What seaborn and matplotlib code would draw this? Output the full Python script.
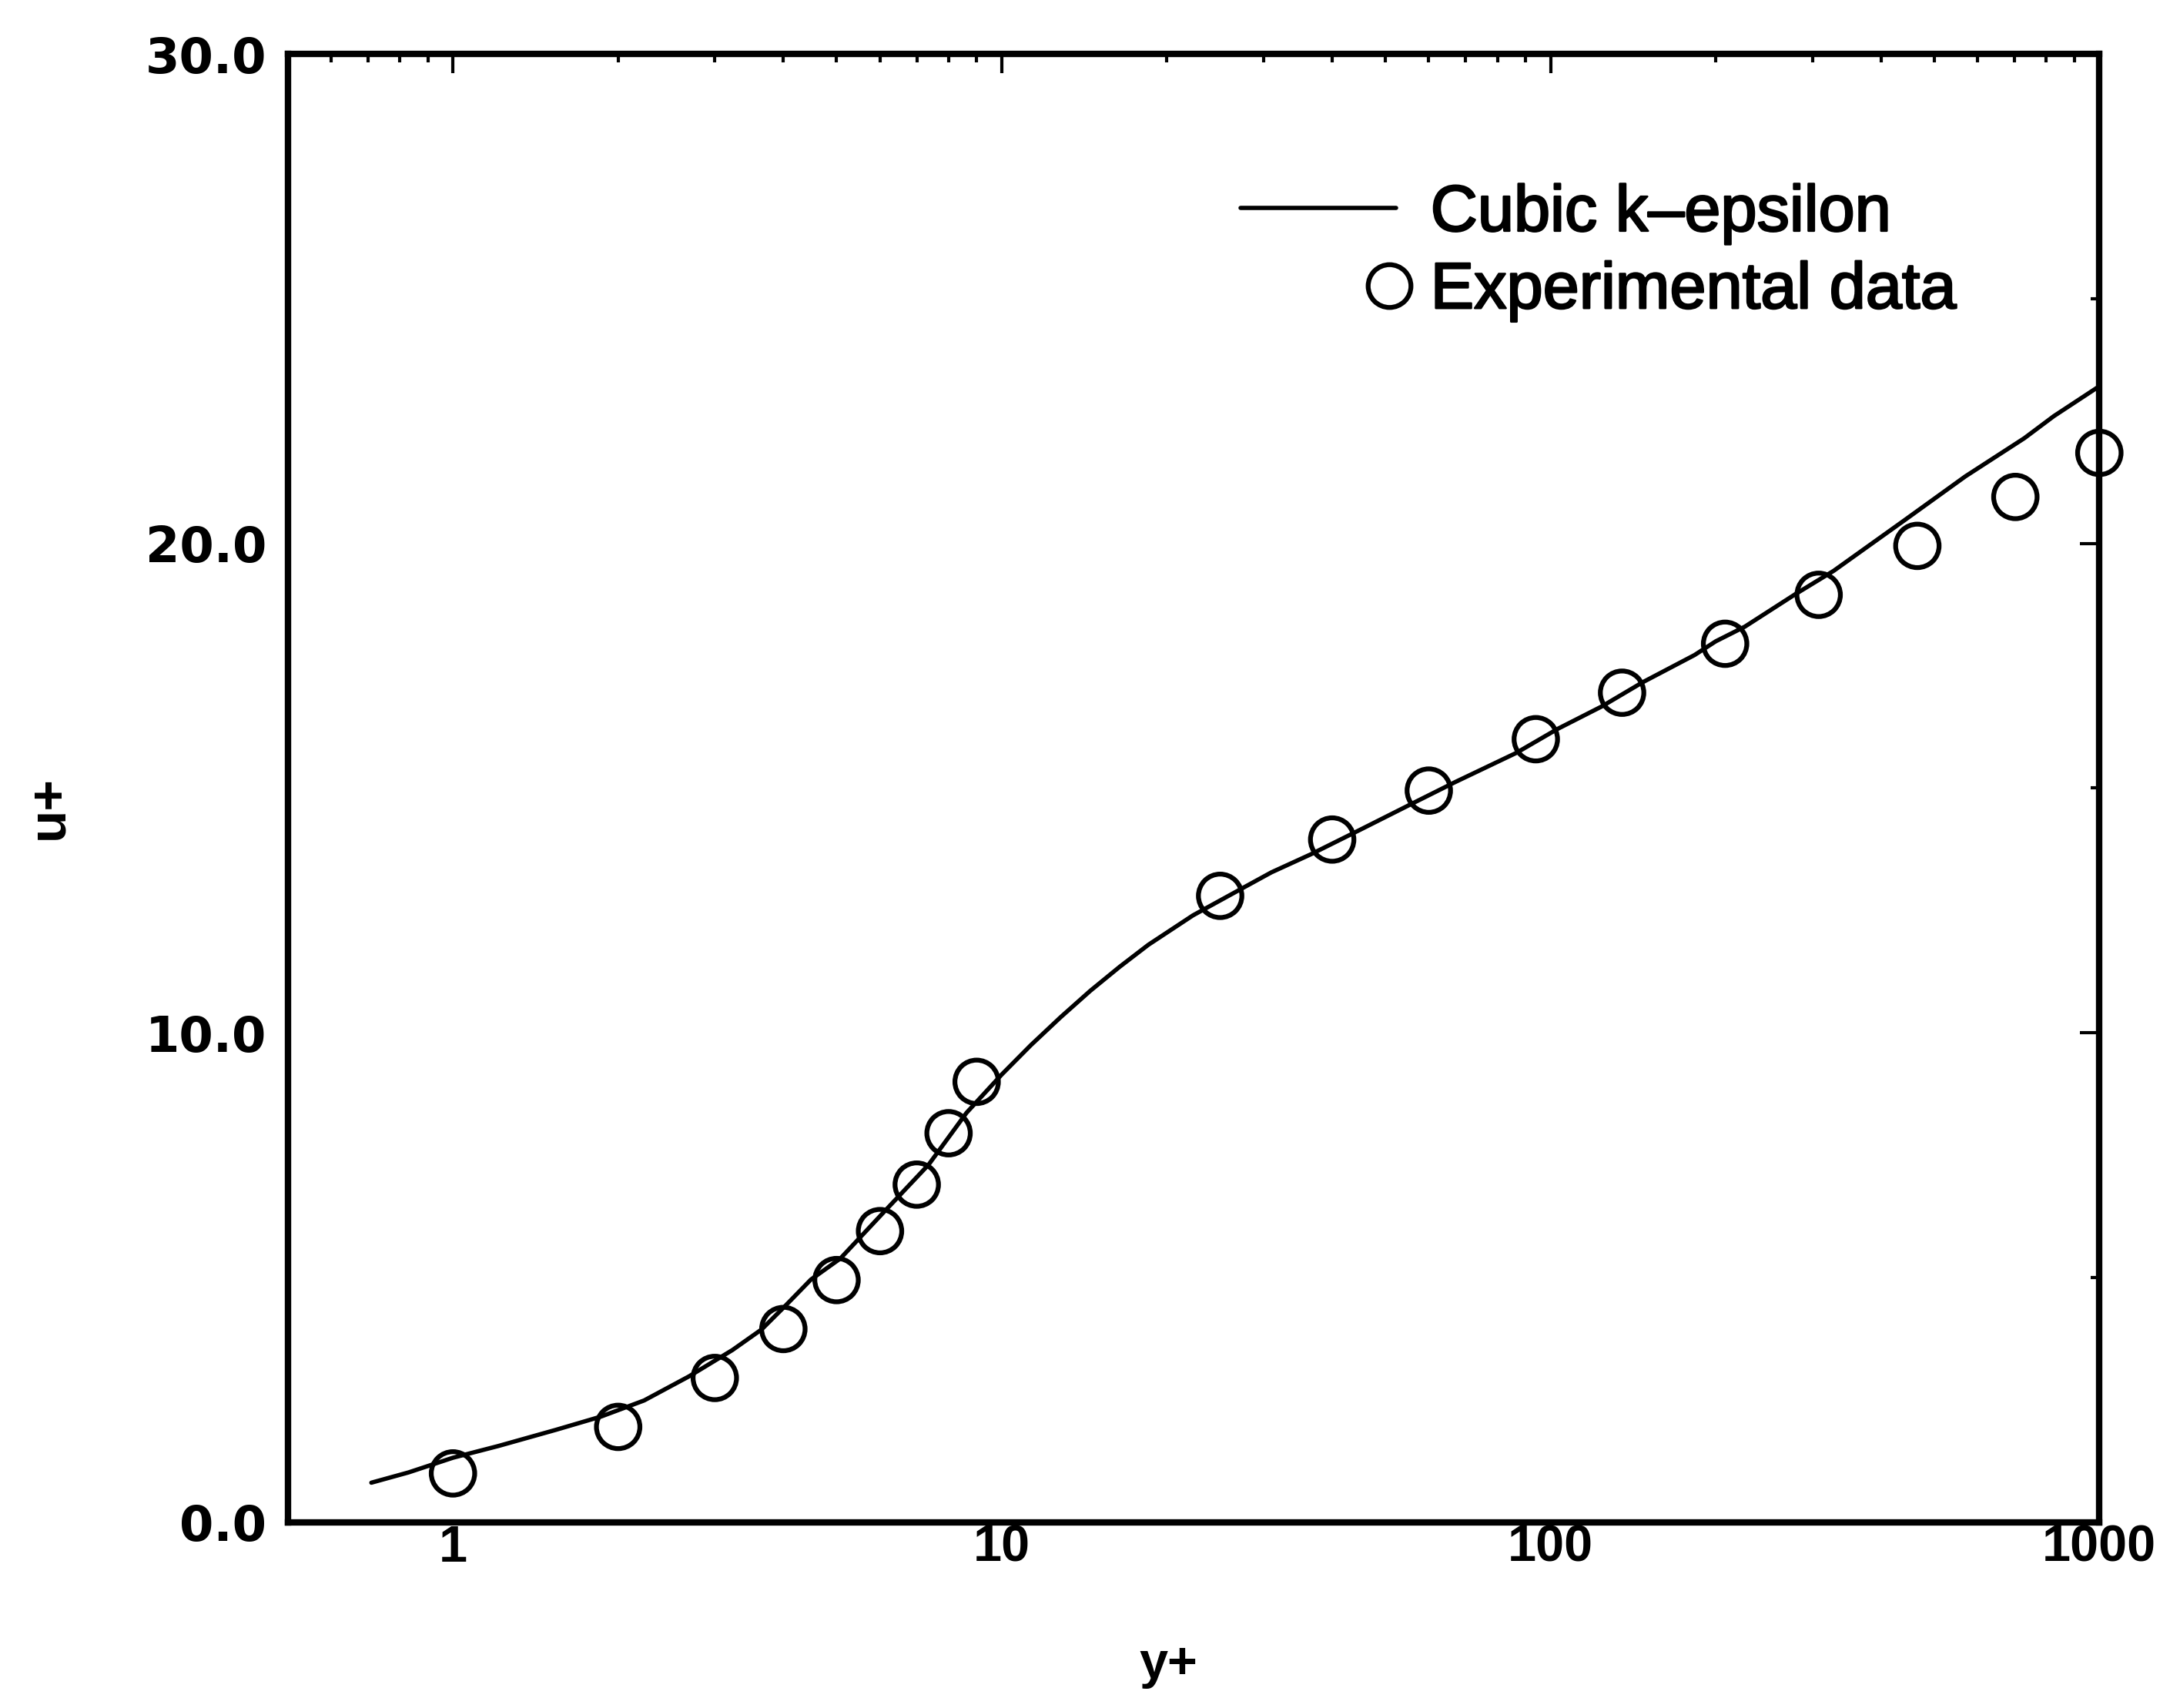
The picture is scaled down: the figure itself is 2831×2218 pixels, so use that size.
import numpy as np
import pandas as pd
import matplotlib
matplotlib.use("Agg")
import matplotlib.pyplot as plt
import matplotlib.patheffects as pe
from matplotlib.lines import Line2D
from matplotlib.legend_handler import HandlerLine2D
from matplotlib.ticker import FixedLocator, FormatStrFormatter, NullFormatter
import seaborn as sns

# Cubic k-epsilon model prediction (y+, u+)
model_yplus = [0.71, 0.83, 1.0, 1.21, 1.54, 1.86, 2.23, 2.69, 3.23, 3.65, 4.03, 4.49,
               5.08, 6.11, 7.36, 8.63, 10.0, 11.3, 12.8, 14.5, 16.4, 18.5, 22.3, 27.7,
               31.0, 36.6, 44.8, 56.3, 66.9, 86.6, 103, 124, 147, 183, 200, 226, 279,
               328, 441, 570, 730, 826, 990]
model_uplus = [0.81, 1.02, 1.32, 1.56, 1.89, 2.16, 2.49, 2.98, 3.52, 3.94, 4.42, 4.96,
               5.39, 6.35, 7.31, 8.37, 9.15, 9.75, 10.32, 10.86, 11.35, 11.80, 12.40, 12.98,
               13.28, 13.65, 14.14, 14.70, 15.12, 15.72, 16.21, 16.67, 17.16, 17.72, 18.00,
               18.30, 18.96, 19.44, 20.47, 21.37, 22.15, 22.60, 23.18]

# Experimental data (y+, u+)
exp_yplus = [1, 2, 3, 4, 5, 6, 7, 8, 9, 25, 40, 60, 94, 135, 208, 308, 466, 703, 1000]
exp_uplus = [1.0, 1.95, 2.95, 3.95, 4.95, 5.95, 6.9, 7.95, 9.0, 12.8, 13.95, 14.95,
             16.0, 16.95, 17.95, 18.95, 19.95, 20.95, 21.85]

x_ticks = [1, 10, 100, 1000]
x_ticklabels = ["1", "10", "100", "1000"]
y_ticks = [0, 10, 20, 30]

series_labels = ["Cubic k\u2013epsilon", "Experimental data"]

sns.set_style("white")
plt.rcParams["font.family"] = ["Liberation Sans", "DejaVu Sans"]
plt.rcParams["text.color"] = "black"
plt.rcParams["axes.labelcolor"] = "black"

model_df = pd.DataFrame({"y+": model_yplus, "u+": model_uplus})
exp_df = pd.DataFrame({"y+": exp_yplus, "u+": exp_uplus})

fig = plt.figure(figsize=(28.31, 22.18), dpi=100)
ax = fig.add_axes([0.132, 0.1087, 0.831, 0.8597])

sns.lineplot(data=model_df, x="y+", y="u+", sort=False, color="black",
             linewidth=4.0, ax=ax, legend=False)
sns.scatterplot(data=exp_df, x="y+", y="u+", marker="o", s=1650,
                facecolor="none", edgecolor="black", linewidth=4.5,
                ax=ax, legend=False, zorder=3, clip_on=False)

ax.set_xscale("log")
ax.set_xlim(0.5, 1000)
ax.set_ylim(0, 30)

ax.xaxis.set_major_locator(FixedLocator(x_ticks))
ax.set_xticklabels(x_ticklabels)
ax.xaxis.set_minor_locator(FixedLocator(
    [m * d for d in (0.1, 1, 10, 100) for m in range(2, 10) if 0.5 <= m * d <= 1000]))
ax.xaxis.set_minor_formatter(NullFormatter())

ax.yaxis.set_major_locator(FixedLocator(y_ticks))
ax.yaxis.set_minor_locator(FixedLocator([5, 15, 25]))
ax.yaxis.set_major_formatter(FormatStrFormatter("%.1f"))

for side in ax.spines.values():
    side.set_linewidth(6.0)
    side.set_color("black")

ax.tick_params(which="both", direction="in", top=True, right=True,
               colors="black", width=3.0)
ax.tick_params(which="major", length=18)
ax.tick_params(which="minor", length=8)
ax.tick_params(axis="x", which="major", pad=2)
ax.tick_params(axis="y", which="major", pad=20)

for lab in ax.get_xticklabels():
    lab.set_fontweight("bold")
    lab.set_fontsize(48)
for lab in ax.get_yticklabels():
    lab.set_fontfamily(["DejaVu Sans"])
    lab.set_fontweight("bold")
    lab.set_fontsize(46)

ax.set_xlabel("y+", fontsize=48, fontweight="bold")
ax.set_ylabel("u+", fontsize=50, fontweight="bold")
ax.xaxis.label.set_va("center")
ax.yaxis.label.set_va("center")
ax.xaxis.set_label_coords(0.486, -0.097)
ax.yaxis.set_label_coords(-0.132, 0.487)


class HandlerMarkerAtEnd(HandlerLine2D):
    """Place a single legend marker near the right end of the handle box."""

    def get_xdata(self, legend, xdescent, ydescent, width, height, fontsize):
        x = width - xdescent - 0.1 * fontsize
        return np.array([x, x]), np.array([x])


line_handle = Line2D([], [], color="black", linewidth=4.0)
marker_handle = Line2D([], [], linestyle="none", marker="o", markersize=40,
                       markerfacecolor="none", markeredgecolor="black",
                       markeredgewidth=4.5)
leg = ax.legend([line_handle, marker_handle], series_labels,
                handler_map={marker_handle: HandlerMarkerAtEnd(numpoints=1)},
                loc="upper left", bbox_to_anchor=(0.526, 0.912),
                frameon=False, fontsize=61, handlelength=2.38, handletextpad=0.53,
                labelspacing=0.24, borderpad=0, borderaxespad=0,
                labelcolor="black")
for txt in leg.get_texts():
    txt.set_path_effects([pe.withStroke(linewidth=1.8, foreground="black")])

fig.savefig("out.png", dpi=100, facecolor="white")
